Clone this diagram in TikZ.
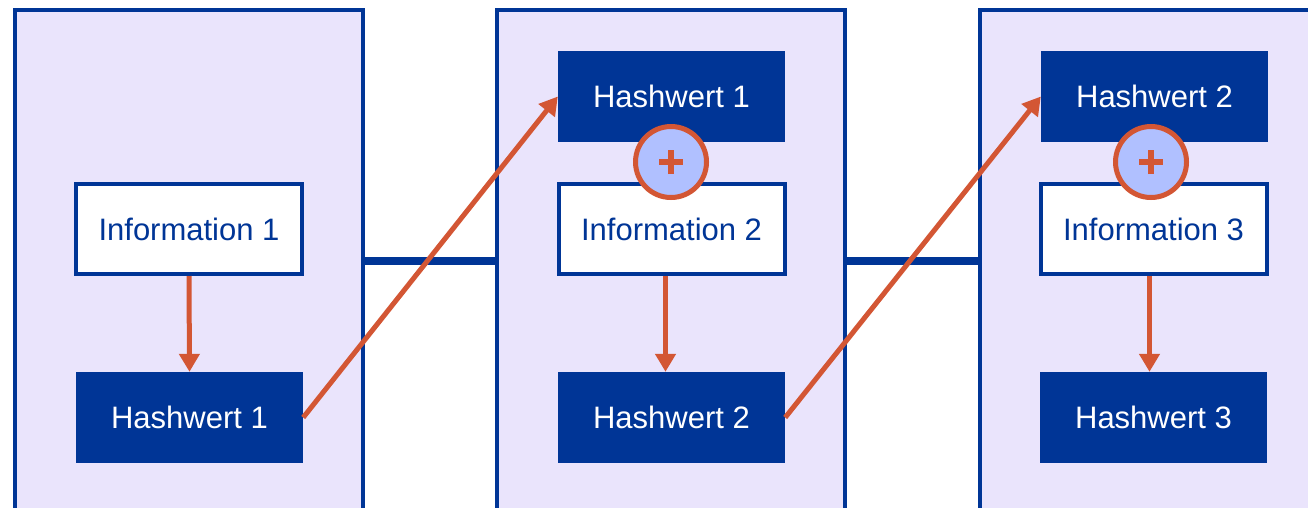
\documentclass[tikz,border=0pt]{standalone}
\usepackage{fontspec}
\setmainfont{Liberation Sans}
\usetikzlibrary{arrows.meta}
\definecolor{dunkelblau}{RGB}{0,53,150}
\definecolor{lavendel}{RGB}{234,228,252}
\definecolor{rostrot}{RGB}{211,86,52}
\definecolor{hellblau}{RGB}{176,192,255}

\begin{document}
\begin{tikzpicture}[x=1pt,y=-1pt,
    block/.style={draw=dunkelblau,fill=lavendel,line width=4pt,minimum width=348pt,minimum height=502pt,inner sep=0pt},
    info/.style={draw=dunkelblau,fill=white,line width=4pt,text=dunkelblau,minimum width=226pt,minimum height=90pt,inner sep=0pt,font=\fontsize{31}{37}\selectfont},
    hash/.style={fill=dunkelblau,text=white,minimum width=227pt,minimum height=91pt,inner sep=0pt,font=\fontsize{31}{37}\selectfont},
    verbind/.style={draw=dunkelblau,line width=8pt},
    pfeil/.style={draw=rostrot,line width=5pt,-{Triangle[width=20pt,length=18pt]}},
    plus/.style={circle,draw=rostrot,fill=hellblau,line width=5pt,minimum size=71pt,inner sep=0pt,
      path picture={\draw[rostrot,line width=6pt]
        ([xshift=-12pt]path picture bounding box.center) -- ([xshift=12pt]path picture bounding box.center)
        ([yshift=-12pt]path picture bounding box.center) -- ([yshift=12pt]path picture bounding box.center);}}]
    \useasboundingbox (0,0) rectangle (1308,507);
    % Bloecke
    \node[block] (b1) at (189,260.5) {};
    \node[block] (b2) at (671,260.5) {};
    \node[block] (b3) at (1153.5,260.5) {};
    \draw[verbind] (b1.east)--(b2.west);
    \draw[verbind] (b2.east)--(b3.west);
    % Block 1
    \node[info] (i1) at (189,229) {Information 1};
    \node[hash] (h1) at (189.5,417.5) {Hashwert 1};
    % Block 2
    \node[hash] (t2) at (671.5,96.5) {Hashwert 1};
    \node[info] (i2) at (671.5,229) {Information 2};
    \node[hash] (h2) at (671.5,417.5) {Hashwert 2};
    \node[plus] (c2) at (671,162) {};
    % Block 3
    \node[hash] (t3) at (1154.5,96.5) {Hashwert 2};
    \node[info] (i3) at (1153.5,229) {Information 3};
    \node[hash] (h3) at (1153.5,417.5) {Hashwert 3};
    \node[plus] (c3) at (1151,162) {};
    % Pfeile
    \draw[pfeil] (i1.south)--(h1.north);
    \draw[pfeil] ([xshift=-6pt]i2.south)--([xshift=-6pt]h2.north);
    \draw[pfeil] ([xshift=-4pt]i3.south)--([xshift=-4pt]h3.north);
    \draw[pfeil] (h1.east)--(t2.west);
    \draw[pfeil] (h2.east)--(t3.west);
\end{tikzpicture}
\end{document}
